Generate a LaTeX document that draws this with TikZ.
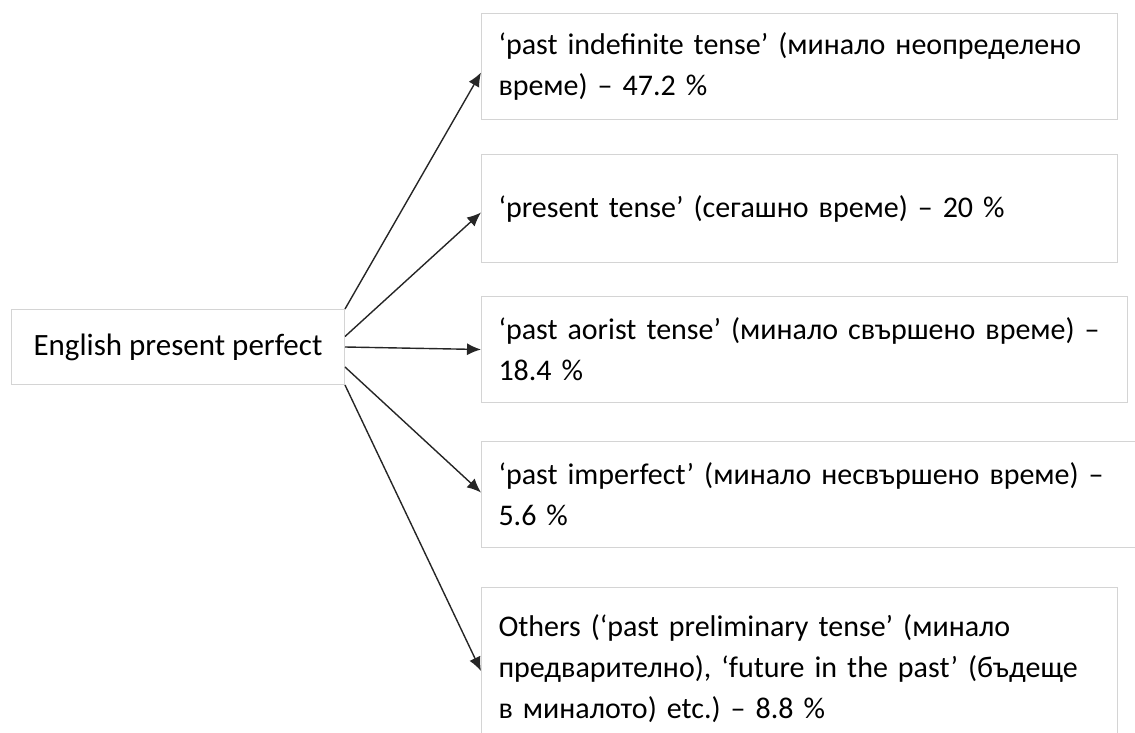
\documentclass[tikz,border=0pt]{standalone}
\usepackage{fontspec}
\setmainfont{Carlito}
\usetikzlibrary{arrows.meta}

\frenchspacing
\newcommand\boxfont{\fontsize{15}{20.5}\selectfont\spaceskip=0.18em plus 0.05em minus 0.05em\relax}

\tikzset{
	box/.style={draw=black!17, line width=0.5pt, rectangle, inner xsep=8.5pt, align=left, anchor=north west, font=\boxfont},
	arr/.style={-{Latex[length=7pt,width=6pt]}, line width=0.7pt, black!85}
}

\begin{document}
\begin{tikzpicture}[x=0.5pt,y=-0.5pt]
		\useasboundingbox (0,0) rectangle (1135,733);
		\clip (0,0) rectangle (1135,733);

		\node[box, minimum width=166.5pt, minimum height=37.5pt, align=center, font=\fontsize{15.5}{20.5}\selectfont] (eng) at (11,309) {English present perfect};

		\node[box, text width=301pt, minimum height=53pt] (b1) at (481,13) {‘past indefinite tense’ (минало неопределено\\време) – 47.2 \%};
		\node[box, text width=301pt, minimum height=54pt] (b2) at (481,154) {‘present tense’ (сегашно време) – 20 \%};
		\node[box, text width=306pt, minimum height=53pt] (b3) at (481,296) {‘past aorist tense’ (минало свършено време) –\\18.4 \%};
		\node[box, text width=313pt, minimum height=53pt] (b4) at (481,441) {‘past imperfect’ (минало несвършено време) –\\5.6 \%};
		\node[box, text width=301pt, minimum height=81.5pt] (b5) at (481,587) {Others (‘past preliminary tense’ (минало\\предварително), ‘future in the past’ (бъдеще\\в миналото) etc.) – 8.8 \%};

		\draw [arr] (eng.north east) -- ([yshift=-3pt]b1.west);
		\draw [arr] ([yshift=5.25pt]eng.east) -- ([yshift=-2pt]b2.west);
		\draw [arr] (eng.east) -- (b3.west);
		\draw [arr] ([yshift=-10pt]eng.east) -- ([yshift=1pt]b4.west);
		\draw [arr] (eng.south east) -- ([yshift=-1pt]b5.west);
	\end{tikzpicture}
\end{document}
